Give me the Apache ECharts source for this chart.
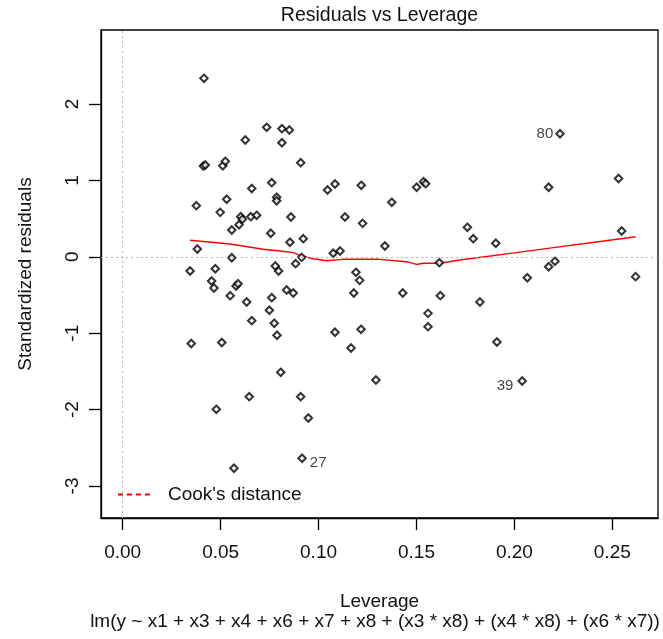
<!DOCTYPE html>
<html>
<head>
<meta charset="utf-8">
<script src="https://cdn.jsdelivr.net/npm/echarts@6/dist/echarts.min.js"></script>
<style>
  html, body { margin: 0; padding: 0; background: #fff; }
  #chart { width: 663px; height: 639px; }
</style>
</head>
<body>
<div id="chart"></div>
<script>
// Leverage (hat values) of each observation
const leverage = [
  0.0415, 0.0735, 0.0813, 0.0851, 0.0626, 0.0813, 0.0909, 0.0412, 0.0422, 0.0511,
  0.0524, 0.0761, 0.0659, 0.1084, 0.1046, 0.1218, 0.1501, 0.1536, 0.1547, 0.2233,
  0.2532, 0.2175, 0.0786, 0.0786, 0.0376, 0.0531, 0.0498, 0.0603, 0.0611, 0.0654,
  0.0684, 0.0594, 0.0557, 0.0756, 0.0854, 0.0859, 0.1374, 0.1135, 0.1225, 0.0922,
  0.1339, 0.1075, 0.1110, 0.0381, 0.0557, 0.0914, 0.0344, 0.0473, 0.0883, 0.0779,
  0.0796, 0.0454, 0.0466, 0.0579, 0.0589, 0.0837, 0.0871, 0.0549, 0.0761, 0.0633,
  0.0749, 0.0659, 0.0774, 0.0788, 0.0350, 0.0506, 0.1617, 0.1191, 0.1210, 0.1180,
  0.1430, 0.1622, 0.1824, 0.1559, 0.1559, 0.1217, 0.1084, 0.1166, 0.1760, 0.1790,
  0.1905, 0.2548, 0.2175, 0.2207, 0.2066, 0.2619, 0.1911, 0.2040, 0.0807, 0.0646,
  0.0478, 0.0568, 0.1293, 0.0909, 0.0948, 0.0916
];

// Standardized residuals, same order as leverage
const stdResiduals = [
  2.336, 1.695, 1.677, 1.660, 1.529, 1.493, 1.232, 1.188, 1.202, 1.192,
  1.250, 0.970, 0.894, 0.953, 0.874, 0.936, 0.910, 0.982, 0.957, 1.611,
  1.025, 0.910, 0.779, 0.734, 0.669, 0.753, 0.582, 0.525, 0.491, 0.525,
  0.543, 0.420, 0.351, 0.308, 0.190, 0.521, 0.713, 0.521, 0.438, 0.237,
  0.141, 0.046, 0.076, 0.102, -0.012, -0.007, -0.186, -0.156, -0.090, -0.120,
  -0.186, -0.317, -0.408, -0.382, -0.352, -0.435, -0.474, -0.509, -0.535, -0.592,
  -0.700, -0.836, -0.870, -1.027, -1.135, -1.122, -0.077, -0.203, -0.308, -0.474,
  -0.474, -0.509, -0.592, -0.740, -0.915, -0.949, -0.988, -1.194, 0.386, 0.237,
  0.177, 0.338, -0.130, -0.059, -0.274, -0.260, -1.115, -1.626, -1.512, -1.831,
  -1.996, -2.768, -1.613, -1.831, -2.110, -2.637
];

// Observations flagged with their row id
const flaggedIndex = [19, 87, 95];
const flaggedId = ['80', '39', '27'];

// Smoothed trend of residuals against leverage
const smoothLeverage = [0.0344, 0.0548, 0.0718, 0.0803, 0.0871, 0.0914, 0.0973, 0.1041, 0.1125, 0.1310,
                        0.1450, 0.1500, 0.1535, 0.1620, 0.1720, 0.1800, 0.2000, 0.2200, 0.2400, 0.2620];
const smoothResidual = [0.216, 0.168, 0.098, 0.076, 0.054, 0.010, -0.025, -0.051, -0.033, -0.033,
                        -0.064, -0.100, -0.085, -0.085, -0.042, -0.015, 0.052, 0.120, 0.188, 0.263];

// Axis ticks
const xTicks = [0, 0.05, 0.10, 0.15, 0.20, 0.25];
const yTicks = [-3, -2, -1, 0, 1, 2];

const titleText = 'Residuals vs Leverage';
const xName = 'Leverage';
const yName = 'Standardized residuals';
const modelCaption = 'lm(y ~ x1 + x3 + x4 + x6 + x7 + x8 + (x3 * x8) + (x4 * x8) + (x6 * x7))';
const cookName = "Cook's distance";

const FONT = '"Liberation Sans", Arial, Helvetica, sans-serif';
const INK = '#111';

// label placement for the flagged points
const flagStyle = {
  '80': { position: 'left', distance: 2, offset: [0, 0] },
  '39': { position: 'left', distance: 4, offset: [0, 5] },
  '27': { position: 'right', distance: 3, offset: [0, 5] }
};

const points = leverage.map((x, i) => {
  const k = flaggedIndex.indexOf(i);
  const item = { value: [x, stdResiduals[i]] };
  if (k >= 0) {
    const id = flaggedId[k];
    const st = flagStyle[id];
    item.label = {
      show: true, formatter: id, position: st.position, distance: st.distance, offset: st.offset,
      fontFamily: FONT, fontSize: 15, color: INK
    };
  }
  return item;
});

const smoothData = smoothLeverage.map((x, i) => [x, smoothResidual[i]]);

const chart = echarts.init(document.getElementById('chart'), null, { renderer: 'canvas' });

const axisLineStyle = { color: '#000', width: 1.3 };

chart.setOption({
  backgroundColor: '#fff',
  animation: false,
  textStyle: { fontFamily: FONT },
  title: [
    {
      text: titleText, left: 379.5, top: 6, textAlign: 'center', padding: 0,
      textStyle: { fontFamily: FONT, fontSize: 19.5, fontWeight: 'normal', color: INK }
    },
    {
      text: modelCaption, left: 375, top: 612, textAlign: 'center', padding: 0,
      textStyle: { fontFamily: FONT, fontSize: 19, fontWeight: 'normal', color: INK }
    }
  ],
  legend: {
    left: 117, top: 485, padding: 0,
    itemWidth: 35, itemHeight: 20,
    data: [cookName],
    itemStyle: { opacity: 0 },
    textStyle: { fontFamily: FONT, fontSize: 19, color: INK, padding: [0, 0, 0, 10] }
  },
  grid: {
    left: 101, top: 30, width: 557, height: 488,
    show: true, borderColor: '#000', borderWidth: 1.3, backgroundColor: 'transparent'
  },
  xAxis: {
    type: 'value',
    min: -0.01108, max: 0.27334,
    name: xName, nameLocation: 'middle', nameGap: 74,
    nameTextStyle: { fontFamily: FONT, fontSize: 19, color: INK },
    axisLine: { show: true, onZero: false, lineStyle: axisLineStyle },
    axisTick: { show: true, length: 12, lineStyle: axisLineStyle, customValues: xTicks },
    axisLabel: {
      customValues: xTicks, margin: 25, fontFamily: FONT, fontSize: 19, color: INK,
      formatter: v => v.toFixed(2)
    },
    splitLine: { show: false }
  },
  yAxis: {
    type: 'value',
    min: -3.4188, max: 2.9686,
    name: yName, nameLocation: 'middle', nameGap: 66,
    nameTextStyle: { fontFamily: FONT, fontSize: 19, color: INK },
    axisLine: { show: true, onZero: false, lineStyle: axisLineStyle },
    axisTick: { show: true, length: 12, lineStyle: axisLineStyle, customValues: yTicks },
    axisLabel: {
      customValues: yTicks, rotate: 90, margin: 19, fontFamily: FONT, fontSize: 19, color: INK,
      formatter: v => String(v)
    },
    splitLine: { show: false }
  },
  series: [
    {
      name: 'residuals',
      type: 'scatter',
      symbol: 'emptyDiamond',
      symbolSize: 7.5,
      itemStyle: { color: '#000', borderWidth: 1 },
      data: points,
      z: 3,
      markLine: {
        silent: true, symbol: 'none', animation: false,
        label: { show: false },
        lineStyle: { color: '#b8b8b8', type: [2, 3], width: 1 },
        data: [{ yAxis: 0 }, { xAxis: 0 }]
      }
    },
    {
      name: 'smooth',
      type: 'line',
      data: smoothData,
      symbol: 'none',
      lineStyle: { color: '#ff0000', width: 1.4 },
      z: 2
    },
    {
      name: cookName,
      type: 'line',
      data: [],
      symbol: 'none',
      itemStyle: { color: '#ff0000' },
      lineStyle: { color: '#ff0000', width: 1.3, type: [5, 4] }
    }
  ]
});
</script>
</body>
</html>
